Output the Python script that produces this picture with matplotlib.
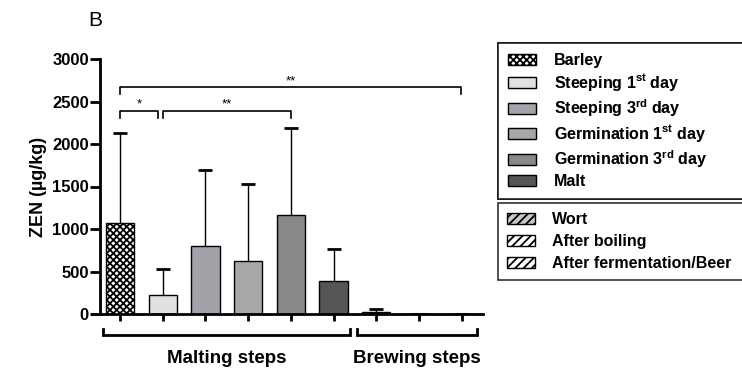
import numpy as np
import matplotlib
matplotlib.use("Agg")
import matplotlib.pyplot as plt
from matplotlib.patches import Patch

plt.rcParams.update({
    "font.family": "Liberation Sans",
    "font.weight": "bold",
    "mathtext.fontset": "custom",
    "mathtext.rm": "Liberation Sans:bold",
    "mathtext.bf": "Liberation Sans:bold",
    "mathtext.default": "regular",
    "hatch.linewidth": 1.3,
})

# ---- datos ----
etapas = ["Barley", "Steeping 1$^{st}$ day", "Steeping 3$^{rd}$ day",
          "Germination 1$^{st}$ day", "Germination 3$^{rd}$ day", "Malt",
          "Wort", "After boiling", "After fermentation/Beer"]
media = [1070, 220, 800, 620, 1170, 390, 20, 2, 1]
sd = [1060, 310, 900, 910, 1020, 380, 35, 0, 0]
colores = ["white", "#e0e0e0", "#a2a2a8", "#a8a8a8", "#888888", "#555555",
           "#c8c8c8", "white", "white"]
tramas = ["xxxxx", None, None, None, None, None, "////", "////", "////"]
yticks = [0, 500, 1000, 1500, 2000, 2500, 3000]

fig = plt.figure(figsize=(7.42, 3.70), dpi=100)
ax = fig.add_axes([100 / 742, 56 / 370, 383 / 742, 255 / 370])

x = np.arange(len(media))
for i in x:
    ax.bar(i, media[i], width=0.66, color=colores[i], edgecolor="black",
           linewidth=1.0, hatch=tramas[i], zorder=2)
eb = ax.errorbar(x, media, yerr=[np.zeros(len(sd)), sd], fmt="none",
                 ecolor="black", elinewidth=1.0, capsize=5, capthick=2,
                 zorder=1)
eb[1][0].set_visible(False)  # sin tapa inferior

ax.set_xlim(-0.47, 8.5)
ax.set_ylim(0, 3000)
ax.set_yticks(yticks)
ax.set_yticklabels([str(v) for v in yticks], fontsize=12, fontweight="bold")
ax.set_xticks(x)
ax.set_xticklabels([])
ax.tick_params(axis="y", length=7, width=2, pad=1)
ax.tick_params(axis="x", length=5, width=2, direction="out")
for sp in ["top", "right"]:
    ax.spines[sp].set_visible(False)
ax.spines["left"].set_linewidth(2)
ax.spines["bottom"].set_linewidth(2)
ax.spines["bottom"].set_bounds(-0.65, 8.5)
ax.set_ylabel("ZEN (µg/kg)", fontsize=13, fontweight="bold", labelpad=4)

# ---- comparaciones (corchetes de significancia) ----
def corchete(x0, x1, y, txt, ytxt):
    ax.plot([x0, x0, x1, x1], [y - 80, y, y, y - 80], color="black",
            lw=1.2, clip_on=False)
    ax.text((x0 + x1) / 2, ytxt, txt, ha="center", va="center",
            fontsize=9.5, fontweight="normal")

corchete(0, 7.98, 2670, "**", 2740)
corchete(0, 0.9, 2390, "*", 2465)
corchete(1.0, 4.0, 2390, "**", 2465)

# ---- grupos bajo el eje ----
def grupo(x0, x1, txt):
    ax.plot([x0, x0, x1, x1], [-176, -247, -247, -176], color="black",
            lw=2, clip_on=False, solid_joinstyle="miter")
    ax.text((x0 + x1) / 2, -520, txt, ha="center", va="center",
            fontsize=13.5, fontweight="bold")

grupo(-0.4, 5.38, "Malting steps")
grupo(5.56, 8.36, "Brewing steps")

fig.text(88 / 742, 1 - 20 / 370, "B", fontsize=15, fontweight="normal",
         va="center", ha="left")

# ---- leyendas ----
def handles(idx):
    return [Patch(facecolor=colores[i], edgecolor="black", hatch=tramas[i],
                  linewidth=1.0, label=etapas[i]) for i in idx]

kw = dict(loc="upper left", frameon=True, fancybox=False, mode="expand",
          handlelength=1.75, handleheight=0.7, handletextpad=1.1,
          borderaxespad=0, edgecolor="black",
          prop={"weight": "bold", "size": 11.5})
leg1 = fig.legend(handles=handles(range(6)), labelspacing=0.25, borderpad=0.65,
                  bbox_to_anchor=(498 / 742, 1 - 43 / 370, 270 / 742, 0), **kw)
leg1.get_frame().set_linewidth(1.2)
leg2 = fig.legend(handles=handles(range(6, 9)), labelspacing=0.45, borderpad=0.55,
                  bbox_to_anchor=(498 / 742, 1 - 203 / 370, 270 / 742, 0), **kw)
leg2.get_frame().set_linewidth(1.2)
fig.add_artist(leg1)

fig.savefig("out.png", dpi=100)
